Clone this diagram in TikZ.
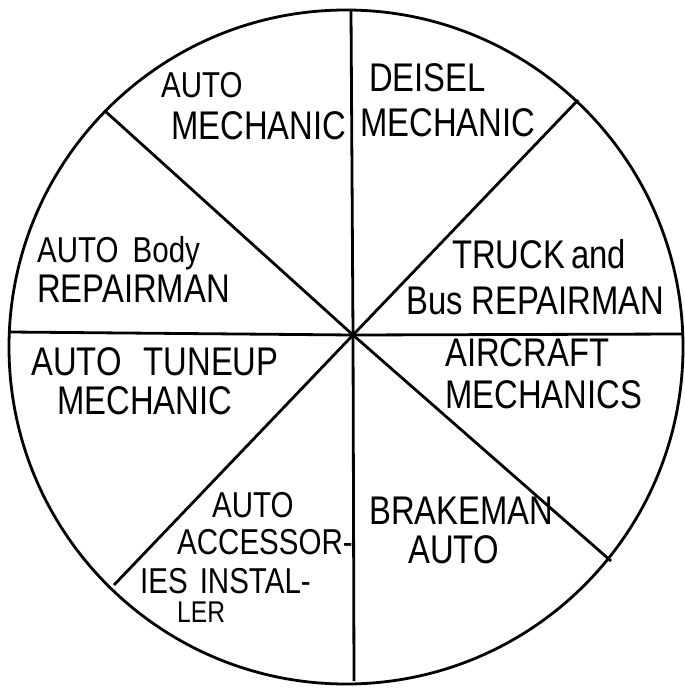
\documentclass[tikz,border=0pt]{standalone}
\usepackage{fontspec}
\setmainfont[FakeStretch=0.82]{Liberation Sans}
\begin{document}
\begin{tikzpicture}[x=1pt,y=-1pt,
  rim/.style={line width=2.8pt},
  spoke/.style={line width=2.8pt},
  lbl/.style={anchor=base west,inner sep=0pt,font=\fontsize{40}{44}\selectfont},
  lbls/.style={lbl,font=\fontsize{36}{40}\selectfont},
  lblt/.style={lbl,font=\fontsize{30}{34}\selectfont}]
\useasboundingbox (0,0) rectangle (684,692);
\coordinate (C) at (346,347);
\coordinate (O) at (353,335);
\coordinate (T) at (351,11);
\coordinate (B) at (354,681);
\coordinate (L) at (10,332);
\coordinate (R) at (683,334);
\coordinate (UL) at (105,111);
\coordinate (LR) at (611,561);
\coordinate (UR) at (578,100);
\coordinate (LL) at (114,585);
\draw[rim] (C) circle[radius=337pt];
\draw[spoke] (O) -- (T);
\draw[spoke] (O) -- (B);
\draw[spoke] (O) -- (L);
\draw[spoke] (O) -- (R);
\draw[spoke] (O) -- (UL);
\draw[spoke] (O) -- (LR);
\draw[spoke] (O) -- (UR);
\draw[spoke] (O) -- (LL);
% upper-left
\node[lbls] (a1) at (161,98) {AUTO};
\node[lbl] (a2) at (171,140) {MECHANIC};
% upper-right
\node[lbl] (d1) at (369,92) {DEISEL};
\node[lbl] (d2) at (360,137) {MECHANIC};
% left upper
\node[lbls] (b1) at (37,262) {AUTO\hspace{14pt}Body};
\node[lbl] (b2) at (37,302) {REPAIRMAN};
% right upper
\node[lbl] (t1) at (452,268) {TRUCK\hspace{6pt}and};
\node[lbl] (t2) at (406,314) {Bus REPAIRMAN};
% left lower
\node[lbl] (u1) at (31,375) {AUTO\hspace{22pt}TUNEUP};
\node[lbl] (u2) at (57,414) {MECHANIC};
% right lower
\node[lbl] (c1) at (445,366) {AIRCRAFT};
\node[lbl] (c2) at (445,408) {MECHANICS};
% lower-left
\node[lbls] (i1) at (212,517) {AUTO};
\node[lbls] (i2) at (177,554) {ACCESSOR-};
\node[lbls] (i3) at (140,593) {IES\hspace{12pt}INSTAL-};
\node[lblt] (i4) at (177,622) {LER};
% lower-right
\node[lbl] (k1) at (369,524) {BRAKEMAN};
\node[lbl] (k2) at (408,563) {AUTO};
\end{tikzpicture}
\end{document}
